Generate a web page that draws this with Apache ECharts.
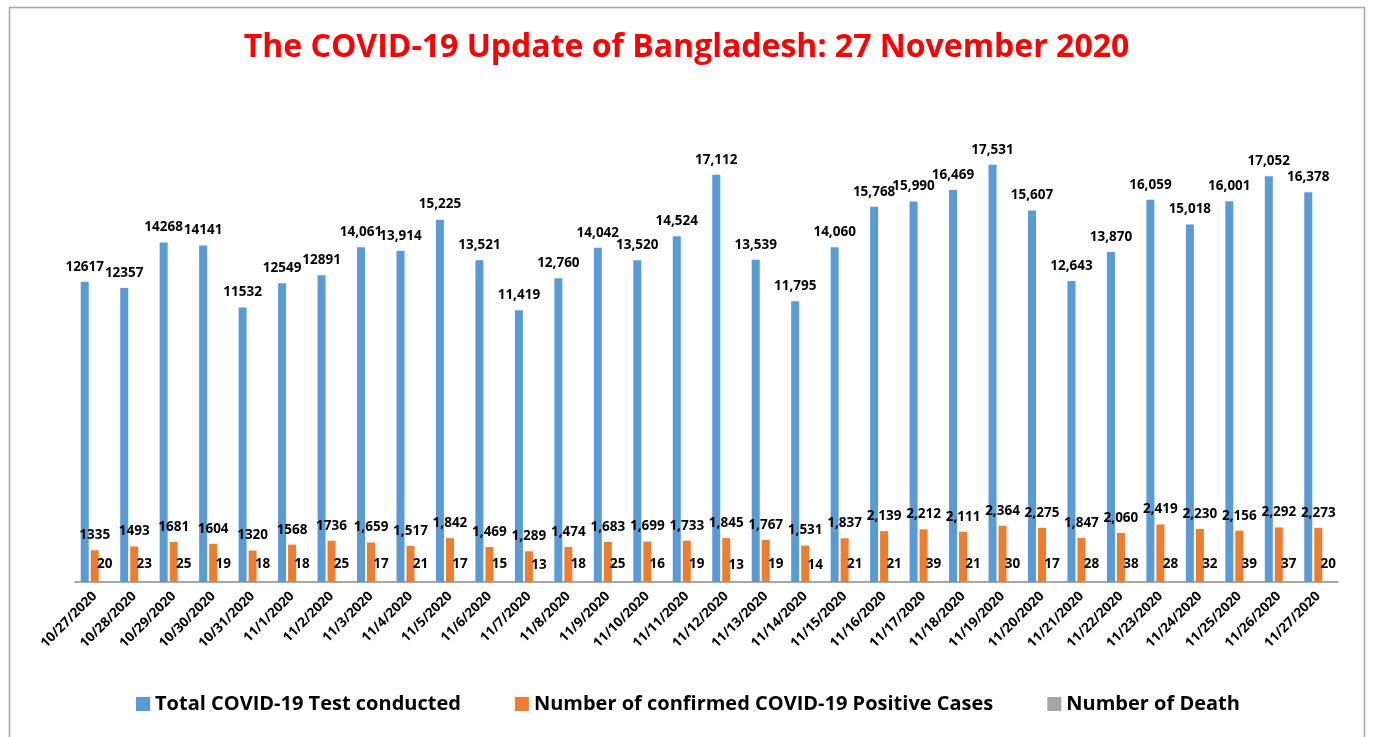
<!DOCTYPE html>
<html><head><meta charset="utf-8">
<script src="https://cdn.jsdelivr.net/npm/echarts@6/dist/echarts.min.js"></script>
<style>html,body{margin:0;padding:0;background:#fff}#c{width:1373px;height:737px}</style>
</head><body><div id="c"></div>
<script>
const dates = ['10/27/2020','10/28/2020','10/29/2020','10/30/2020','10/31/2020','11/1/2020','11/2/2020','11/3/2020','11/4/2020','11/5/2020','11/6/2020','11/7/2020','11/8/2020','11/9/2020','11/10/2020','11/11/2020','11/12/2020','11/13/2020','11/14/2020','11/15/2020','11/16/2020','11/17/2020','11/18/2020','11/19/2020','11/20/2020','11/21/2020','11/22/2020','11/23/2020','11/24/2020','11/25/2020','11/26/2020','11/27/2020'];
const tests = [12617,12357,14268,14141,11532,12549,12891,14061,13914,15225,13521,11419,12760,14042,13520,14524,17112,13539,11795,14060,15768,15990,16469,17531,15607,12643,13870,16059,15018,16001,17052,16378];
const positives = [1335,1493,1681,1604,1320,1568,1736,1659,1517,1842,1469,1289,1474,1683,1699,1733,1845,1767,1531,1837,2139,2212,2111,2364,2275,1847,2060,2419,2230,2156,2292,2273];
const deaths = [20,23,25,19,18,18,25,17,21,17,15,13,18,25,16,19,13,19,14,21,21,39,21,30,17,28,38,28,32,39,37,20];
const seriesNames = ['Total COVID-19 Test conducted','Number of confirmed COVID-19 Positive Cases','Number of Death'];
const plainLabelCount = 7; // first entries in the source are shown without thousands separator

const fmt = p => p.dataIndex < plainLabelCount ? String(p.value) : p.value.toLocaleString('en-US');
const labelFont = {fontFamily:'Open Sans', fontWeight:'bold', fontSize:13.5, color:'#000'};

const chart = echarts.init(document.getElementById('c'));
chart.setOption({
  animation:false,
  backgroundColor:'#fff',
  title:{text:'The COVID-19 Update of Bangladesh: 27 November 2020', left:'center', top:27,
    textStyle:{color:'#FF0000', fontFamily:'Open Sans', fontWeight:'bold', fontSize:32}},
  graphic:[{type:'rect', shape:{x:9.5,y:7.5,width:1355,height:760}, style:{fill:'none', stroke:'#A6A6A6', lineWidth:1.5}, silent:true}],
  legend:{bottom:18, left:131, itemWidth:14, itemHeight:14, itemGap:54, icon:'rect',
    textStyle:{fontFamily:'Open Sans', fontWeight:'bold', fontSize:20, color:'#000'}},
  grid:{left:75, right:35, top:106, bottom:155},
  xAxis:{type:'category', data:dates,
    axisLine:{lineStyle:{color:'#8C8C8C', width:1.5}}, axisTick:{show:false},
    axisLabel:{rotate:45, interval:0, margin:12, fontFamily:'Open Sans', fontWeight:'bold', fontSize:13.5, color:'#000'}},
  yAxis:{type:'value', min:0, max:20000, show:false, splitLine:{show:false}},
  series:[
    {name:seriesNames[0], type:'bar', data:tests, barWidth:8, barGap:'25%', barCategoryGap:'29%',
      itemStyle:{color:'#5B9BD5'}, label:{show:true, position:'top', distance:8, formatter:fmt, ...labelFont}},
    {name:seriesNames[1], type:'bar', data:positives, barWidth:8,
      itemStyle:{color:'#ED7D31'}, label:{show:true, position:'top', distance:8, formatter:fmt, ...labelFont}},
    {name:seriesNames[2], type:'bar', data:deaths, barWidth:8,
      itemStyle:{color:'#A5A5A5'}, label:{show:true, position:'top', distance:10, ...labelFont}}
  ]
});
</script></body></html>
